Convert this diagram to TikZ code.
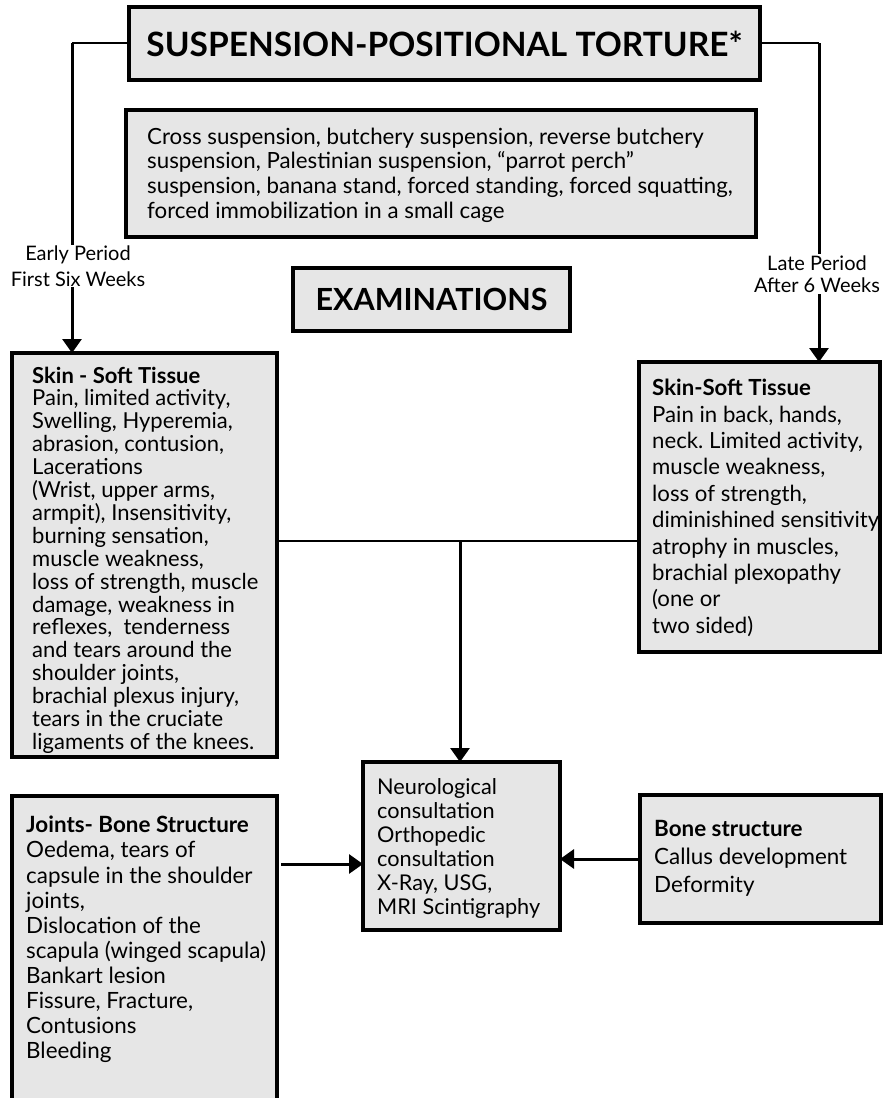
\documentclass[tikz,border=0pt]{standalone}
\usepackage{fontspec}
\setmainfont{Lato}
\usetikzlibrary{arrows.meta}
\definecolor{boxgray}{HTML}{E6E6E6}
\frenchspacing
\begin{document}
\begin{tikzpicture}[x=1pt,y=-1pt,
  box/.style={draw=black,fill=boxgray,line width=4.5pt,inner sep=0pt,outer sep=0pt},
  txt/.style={anchor=north west,align=left,inner sep=0pt},
  lbl/.style={align=center,fill=white,inner sep=1pt},
  conn/.style={line width=2pt},
  arr/.style={line width=3pt,-{Triangle[length=14pt,width=19pt]}}]
\useasboundingbox (0,0) rectangle (884,1098);
\clip (0,0) rectangle (884,1098);
% boxes
\node[box,minimum width=631pt,minimum height=73pt,font=\bfseries\fontsize{33.5}{38}\selectfont] (title) at (444.5,43.5) {SUSPENSION-POSITIONAL TORTURE*};
\node[box,minimum width=630pt,minimum height=127pt] (desc) at (441,173.5) {};
\node[txt,font=\fontsize{22.3}{24.7}\selectfont] (desct) at (147,127.5) {Cross suspension, butchery suspension, reverse butchery\\suspension, Palestinian suspension, “parrot perch”\\suspension, banana stand, forced standing, forced squatting,\\forced immobilization in a small cage};
\node[box,minimum width=277pt,minimum height=63pt,font=\bfseries\fontsize{30.5}{34}\selectfont] (exam) at (431.5,299.5) {EXAMINATIONS};
\node[box,minimum width=265pt,minimum height=404pt] (lbox) at (144.5,555) {};
\node[txt,font=\fontsize{22}{22.9}\selectfont] (lboxt) at (32,366.5) {\textbf{Skin - Soft Tissue}\\Pain, limited activity,\\Swelling, Hyperemia,\\abrasion, contusion,\\Lacerations\\(Wrist, upper arms,\\armpit), Insensitivity,\\burning sensation,\\muscle weakness,\\loss of strength, muscle\\damage, weakness in\\reflexes,\ \ tenderness\\and tears around the\\shoulder joints,\\brachial plexus injury,\\tears in the cruciate\\ligaments of the knees.};
\node[box,minimum width=241pt,minimum height=290pt] (rbox) at (759.5,507) {};
\node[txt,font=\fontsize{22.2}{26.4}\selectfont] (rboxt) at (652,379) {\textbf{Skin-Soft Tissue}\\Pain in back, hands,\\neck. Limited activity,\\muscle weakness,\\loss of strength,\\diminishined sensitivity\\atrophy in muscles,\\brachial plexopathy\\(one or\\two sided)};
\node[box,minimum width=197pt,minimum height=168pt] (cbox) at (461.5,846) {};
\node[txt,font=\fontsize{21.7}{24}\selectfont] (cboxt) at (377,778) {Neurological\\consultation\\Orthopedic\\consultation\\X-Ray, USG,\\MRI Scintigraphy};
\node[box,minimum width=265pt,minimum height=320pt] (jbox) at (144.5,956) {};
\node[txt,font=\fontsize{22.4}{25.1}\selectfont] (jboxt) at (26,816) {\textbf{Joints- Bone Structure}\\Oedema, tears of\\capsule in the shoulder\\joints,\\Dislocation of the\\scapula (winged scapula)\\Bankart lesion\\Fissure, Fracture,\\Contusions\\Bleeding};
\node[box,minimum width=241pt,minimum height=128pt] (bbox) at (760.5,859) {};
\node[txt,font=\fontsize{22.4}{28}\selectfont] (bboxt) at (654,820) {\textbf{Bone structure}\\Callus development\\Deformity};
% connectors
\coordinate (lc) at (72,43);
\coordinate (rc) at (819,43);
\draw[conn] (title.west |- lc) -- (lc);
\draw[arr] (lc) -- (lc |- lbox.north);
\node[lbl,font=\fontsize{20}{26}\selectfont] (llbl) at (78,266) {Early Period\\First Six Weeks};
\draw[conn] (title.east |- rc) -- (rc);
\draw[arr] (rc) -- (rc |- rbox.north);
\node[lbl,font=\fontsize{20}{22.5}\selectfont] (rlbl) at (817,274) {Late Period\\After 6 Weeks};
\coordinate (mid) at (460,541);
\draw[conn] (lbox.east |- mid) -- (rbox.west |- mid);
\draw[arr] (mid) -- (mid |- cbox.north);
\draw[arr] ([xshift=4pt]jbox.east |- 0,864) -- (cbox.west |- 0,864);
\draw[arr] (bbox.west |- 0,859) -- (cbox.east |- 0,859);
\end{tikzpicture}
\end{document}
